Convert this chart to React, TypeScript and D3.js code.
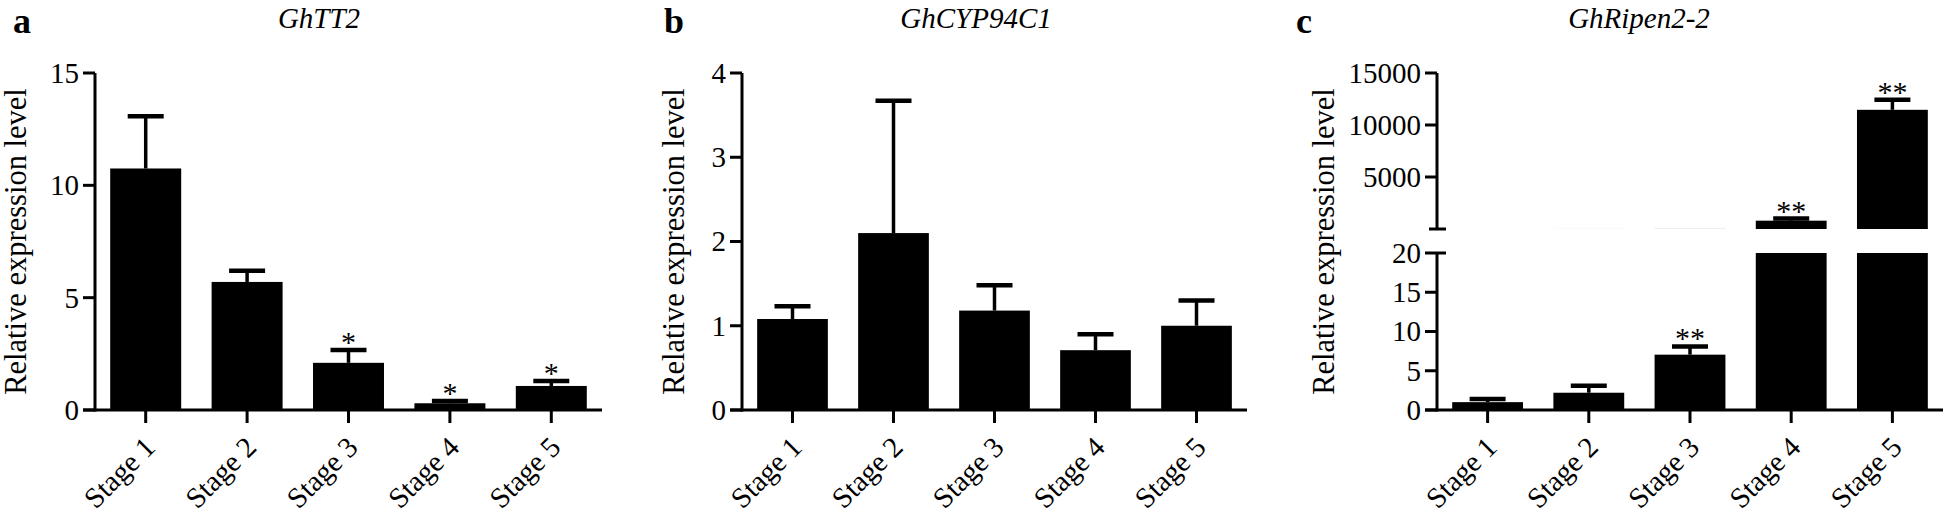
import * as d3 from 'd3'

const stages = ['Stage 1', 'Stage 2', 'Stage 3', 'Stage 4', 'Stage 5']

// a: GhTT2
const tt2Mean = [10.75, 5.7, 2.1, 0.3, 1.07]
const tt2Sd = [2.32, 0.5, 0.57, 0.1, 0.22]
const tt2Sig = ['', '', '*', '*', '*']
const tt2Ticks = [0, 5, 10, 15]

// b: GhCYP94C1
const cypMean = [1.08, 2.1, 1.18, 0.71, 1.0]
const cypSd = [0.15, 1.57, 0.3, 0.19, 0.3]
const cypSig = ['', '', '', '', '']
const cypTicks = [0, 1, 2, 3, 4]

// c: GhRipen2-2 (broken axis)
const ripMean = [1.0, 2.2, 7.05, 800, 11460]
const ripSd = [0.4, 0.9, 1.05, 200, 960]
const ripSig = ['', '', '**', '**', '**']
const ripLowTicks = [0, 5, 10, 15, 20]
const ripHighTicks = [5000, 10000, 15000]

const FONT = '"Liberation Serif", "Times New Roman", serif'
const BASE = 410
const TOP = 73

type Seg = { domain: [number, number]; range: [number, number]; ticks: number[]; breakTop?: boolean; breakBottom?: boolean }

function Panel({ letter, title, x0, x1, titleX, letterX, labelX, mean, sd, sig, segs }: any) {
  const x = d3.scaleBand().domain(stages).range([x0, x1]).paddingInner(0.3).paddingOuter(0.15)
  const bw = x.bandwidth()
  const scales = (segs as Seg[]).map(s => ({ ...s, y: d3.scaleLinear().domain(s.domain).range(s.range) }))
  const segOf = (v: number) => scales.find(s => v <= s.domain[1]) || scales[scales.length - 1]

  return (
    <g>
      <text x={letterX} y={33} fontFamily={FONT} fontWeight="bold" fontSize={36}>{letter}</text>
      <text x={titleX} y={28} fontFamily={FONT} fontStyle="italic" fontSize={29} textAnchor="middle">{title}</text>
      <text transform={`translate(${labelX},${(TOP + BASE) / 2}) rotate(-90)`} fontFamily={FONT} fontSize={30.5} textAnchor="middle">
        Relative expression level
      </text>

      {/* bars */}
      {stages.map((st, i) => scales.map((s, j) => {
        const v = mean[i]
        if (v <= s.domain[0]) return null
        const yt = s.y(Math.min(v, s.domain[1]))
        const yb = s.y(s.domain[0])
        return <rect key={st + j} x={x(st)} y={yt} width={bw} height={yb - yt} fill="#000" />
      }))}

      {/* error bars + significance */}
      {stages.map((st, i) => {
        const s = segOf(mean[i])
        const cx = (x(st) as number) + bw / 2
        const yt = s.y(mean[i])
        const ye = s.y(mean[i] + sd[i])
        return (
          <g key={st}>
            <line x1={cx} x2={cx} y1={yt} y2={ye} stroke="#000" strokeWidth={3.5} />
            <line x1={cx - 18} x2={cx + 18} y1={ye} y2={ye} stroke="#000" strokeWidth={4.5} />
            {sig[i] && (
              <text x={cx} y={ye + 2} fontFamily={FONT} fontSize={30} textAnchor="middle">{sig[i]}</text>
            )}
          </g>
        )
      })}

      {/* y axis */}
      {scales.map((s, j) => (
        <g key={j}>
          <line x1={x0} x2={x0} y1={s.y(s.domain[0]) + (j === 0 ? 1.5 : 0)} y2={s.y(s.domain[1])} stroke="#000" strokeWidth={3} />
          {s.ticks.map(t => (
            <g key={t}>
              <line x1={x0 - 12} x2={x0} y1={s.y(t)} y2={s.y(t)} stroke="#000" strokeWidth={3} />
              <text x={x0 - 16} y={s.y(t)} dy="0.34em" fontFamily={FONT} fontSize={29} textAnchor="end">{t}</text>
            </g>
          ))}
          {s.breakTop && <line x1={x0} x2={x0 + 9} y1={s.y(s.domain[1])} y2={s.y(s.domain[1])} stroke="#000" strokeWidth={3} />}
          {s.breakBottom && <line x1={x0 - 8} x2={x0 + 9} y1={s.y(s.domain[0])} y2={s.y(s.domain[0])} stroke="#000" strokeWidth={3} />}
        </g>
      ))}

      {/* x axis */}
      <line x1={x0 - 12} x2={x1} y1={BASE} y2={BASE} stroke="#000" strokeWidth={3} />
      {stages.map(st => {
        const cx = (x(st) as number) + bw / 2
        return (
          <g key={st}>
            <line x1={cx} x2={cx} y1={BASE} y2={BASE + 13} stroke="#000" strokeWidth={3} />
            <text transform={`translate(${cx + 11},${BASE + 39}) rotate(-45)`} fontFamily={FONT} fontSize={29} textAnchor="end">{st}</text>
          </g>
        )
      })}
    </g>
  )
}

export default function App() {
  return (
    <svg width={1946} height={517} style={{ position: 'absolute', left: 0, top: 0, background: '#fff' }}>
      <rect width={1946} height={517} fill="#fff" />
      <Panel letter="a" title="GhTT2" x0={95} x1={602} titleX={319} letterX={13} labelX={26}
        mean={tt2Mean} sd={tt2Sd} sig={tt2Sig}
        segs={[{ domain: [0, 15], range: [BASE, TOP], ticks: tt2Ticks }]} />
      <Panel letter="b" title="GhCYP94C1" x0={742} x1={1247} titleX={976} letterX={664} labelX={684}
        mean={cypMean} sd={cypSd} sig={cypSig}
        segs={[{ domain: [0, 4], range: [BASE, TOP], ticks: cypTicks }]} />
      <Panel letter="c" title="GhRipen2-2" x0={1437} x1={1943} titleX={1639} letterX={1296} labelX={1334}
        mean={ripMean} sd={ripSd} sig={ripSig}
        segs={[
          { domain: [0, 20], range: [BASE, 253], ticks: ripLowTicks, breakTop: true },
          { domain: [0, 15000], range: [229, TOP], ticks: ripHighTicks, breakBottom: true },
        ]} />
    </svg>
  )
}
